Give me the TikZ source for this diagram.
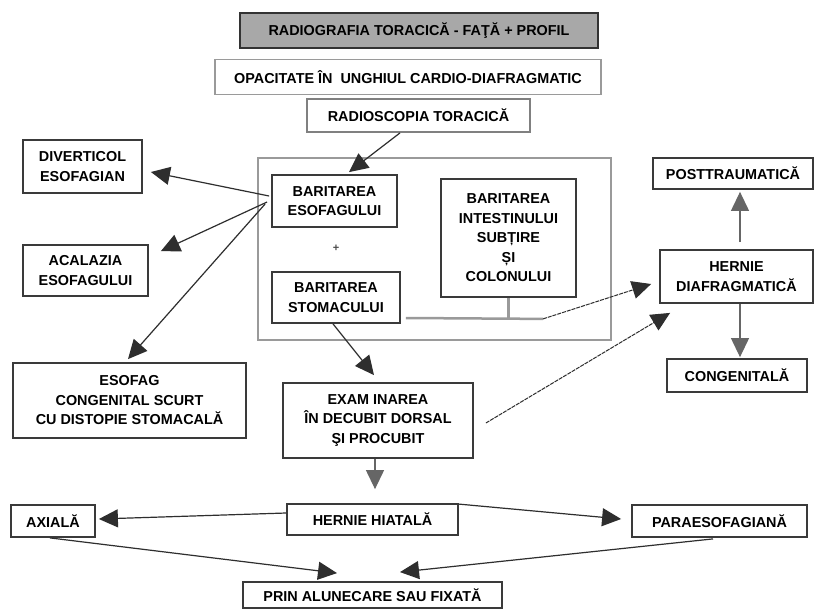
\documentclass[tikz,border=0pt]{standalone}
\usepackage{fontspec}
\setmainfont{Liberation Sans}
\usetikzlibrary{arrows.meta,calc}
\definecolor{boxc}{HTML}{3A3A3A}
\definecolor{lightc}{HTML}{9A9A9A}
\definecolor{linec}{HTML}{2E2E2E}
\definecolor{titlefill}{HTML}{A8A8A8}
\begin{document}
\begin{tikzpicture}[x=1pt,y=-1pt,
  box/.style={draw=boxc, line width=1.8pt, align=center, inner sep=0pt,
    font=\bfseries\fontsize{14.4}{19.5}\selectfont, text=black},
  arr/.style={draw=linec, line width=1.2pt, -{Triangle[length=19pt,width=18pt]}},
  plain/.style={draw=linec, line width=1.1pt},
  grayline/.style={draw=lightc, line width=2.5pt}]
\useasboundingbox (0,0) rectangle (814,610);
\fill[white] (0,0) rectangle (814,610);

% top boxes
\node[box, fill=titlefill, draw=black!80, line width=2.2pt, minimum width=358pt, minimum height=35pt] (title) at (419,30.5) {RADIOGRAFIA TORACICĂ - FAŢĂ + PROFIL};
\node[box, draw=lightc, minimum width=386pt, minimum height=35pt] (opac) at (408,77) {OPACITATE ÎN\ \ UNGHIUL CARDIO-DIAFRAGMATIC};
\node[box, draw=gray, minimum width=223pt, minimum height=33pt] (rad) at (418.5,115.5) {RADIOSCOPIA TORACICĂ};

% container
\node[draw=lightc, line width=2.5pt, minimum width=353pt, minimum height=182pt, inner sep=0pt] (cont) at (434.5,249) {};

\node[box, minimum width=125pt, minimum height=52pt] (esof) at (334.5,201) {BARITAREA\\ESOFAGULUI};
\node[font=\bfseries\fontsize{11}{12}\selectfont, text=black!70, inner sep=0pt] (plus) at (336,248) {+};
\node[box, minimum width=128pt, minimum height=51pt] (stom) at (336,297.5) {BARITAREA\\STOMACULUI};
\node[box, minimum width=135pt, minimum height=118pt] (intest) at (508.5,238) {BARITAREA\\INTESTINULUI\\SUBȚIRE\\ȘI\\COLONULUI};

% right side
\node[box, minimum width=153pt, minimum height=53pt] (hd) at (736.5,276.5) {HERNIE\\DIAFRAGMATICĂ};
\node[box, minimum width=160pt, minimum height=31pt] (post) at (733,173.5) {POSTTRAUMATICĂ};
\node[box, minimum width=140pt, minimum height=33pt] (cong) at (737,375.5) {CONGENITALĂ};

% left side
\node[box, minimum width=119pt, minimum height=53pt] (divert) at (82.5,166.5) {DIVERTICOL\\ESOFAGIAN};
\node[box, minimum width=125pt, minimum height=51pt] (acal) at (85.5,270.5) {ACALAZIA\\ESOFAGULUI};
\node[box, minimum width=233pt, minimum height=75pt] (esofc) at (129.5,400.5) {ESOFAG\\CONGENITAL SCURT\\CU DISTOPIE STOMACALĂ};

% middle / bottom
\node[box, minimum width=190pt, minimum height=75pt] (exam) at (378,420.5) {EXAM INAREA\\ÎN DECUBIT DORSAL\\ŞI PROCUBIT};
\node[box, minimum width=171pt, minimum height=31pt] (hiatal) at (372.5,519.5) {HERNIE HIATALĂ};
\node[box, minimum width=84pt, minimum height=32pt] (axial) at (53,521) {AXIALĂ};
\node[box, minimum width=175pt, minimum height=32pt] (para) at (719.5,521) {PARAESOFAGIANĂ};
\node[box, minimum width=259pt, minimum height=26pt] (prin) at (372.5,595) {PRIN ALUNECARE SAU FIXATĂ};

% connectors
\draw[arr] ($(rad.south)+(-18.5,0)$) -- ($(esof.north)+(14.5,-2)$);
\draw[arr] ($(esof.west)+(-2,-5)$) -- ($(divert.east)+(8,5.5)$);
\draw[arr] ($(esof.west)+(-4,1)$) -- ($(acal.north east)+(12,7)$);
\draw[arr] ($(esof.west)+(-6,3)$) -- ($(esofc.north)+(-1.5,-3)$);
\draw[arr] ($(stom.south)+(-3,0)$) -- ($(exam.north)+(-4,-7)$);
\draw[arr, line width=1pt, dash pattern=on 4pt off 1pt] ($(exam.east)+(12,2.5)$) -- ($(hd.south west)+(11,9)$);

\coordinate (j1) at ($(stom.east)+(5,20.5)$);
\coordinate (j2) at ($(intest.south)+(34.5,21)$);
\draw[grayline] (j1) -- (j2);
\draw[grayline] (intest.south) -- (intest.south |- j1);
\draw[arr, line width=1pt, dash pattern=on 4pt off 1pt] (j2) -- ($(hd.west)+(-8,7.5)$);

\draw[arr, draw=gray!80!black] ($(hd.north)+(3.5,-7)$) -- ($(post.south)+(7,2)$);
\draw[arr, draw=gray!80!black] ($(hd.south)+(3.5,0)$) -- ($(cong.north)+(3,-1)$);

\draw[arr, draw=gray!80!black] ($(exam.south)+(-3,0)$) -- ($(hiatal.north)+(2.5,-14)$);
\draw[arr] ($(hiatal.west)+(0,-6.5)$) -- ($(axial.east)+(3,-2)$);
\draw[arr] ($(hiatal.north east)+(0,1)$) -- ($(para.west)+(-10,-2)$);
\draw[arr] ($(axial.south)+(-3,0)$) -- ($(prin.north)+(-35.5,-8)$);
\draw[arr] ($(para.south)+(-6.5,1)$) -- ($(prin.north)+(27.5,-9)$);
\end{tikzpicture}
\end{document}
